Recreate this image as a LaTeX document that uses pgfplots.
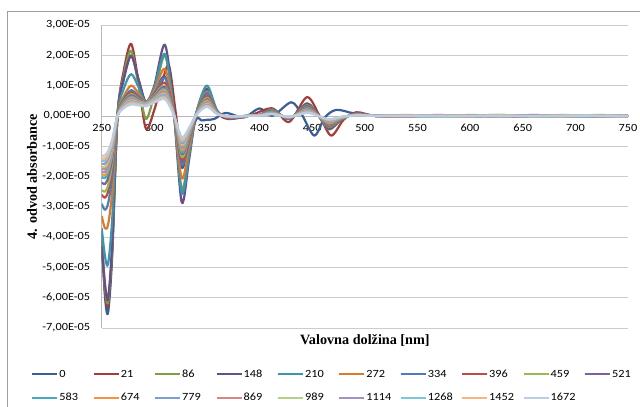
\documentclass[border=0pt]{standalone}
\usepackage{pgfplots}
\pgfplotsset{compat=1.18}
\usepackage{fontspec}
\setmainfont{Carlito}
\newfontfamily\carl[FakeStretch=1.12]{Carlito}
\newfontfamily\tnr{Liberation Serif}
\newcommand{\legtxt}[1]{\makebox[32.2pt][l]{#1}}
\definecolor{c0}{HTML}{3A5F96}
\definecolor{c21}{HTML}{A33C3A}
\definecolor{c86}{HTML}{7E9E45}
\definecolor{c148}{HTML}{65508A}
\definecolor{c210}{HTML}{3C94AE}
\definecolor{c272}{HTML}{DA7B2C}
\definecolor{c334}{HTML}{4A7EBB}
\definecolor{c396}{HTML}{BE4B48}
\definecolor{c459}{HTML}{98B954}
\definecolor{c521}{HTML}{7D60A0}
\definecolor{c583}{HTML}{46AAC5}
\definecolor{c674}{HTML}{F69240}
\definecolor{c779}{HTML}{7E9FD2}
\definecolor{c869}{HTML}{D98583}
\definecolor{c989}{HTML}{B5D186}
\definecolor{c1114}{HTML}{A592C4}
\definecolor{c1268}{HTML}{7FC6DA}
\definecolor{c1452}{HTML}{F9B483}
\definecolor{c1672}{HTML}{B9CDE5}
\begin{document}
\begin{tikzpicture}
\path[use as bounding box] (0pt,0pt) rectangle (640pt,407pt);
\draw[gray!75, line width=0.8pt] (7pt,0pt) -- (7pt,396pt) -- (640pt,396pt);
\begin{axis}[
  at={(101.7pt,79pt)}, anchor=south west,
  scale only axis, width=526.3pt, height=303pt,
  xmin=250, xmax=750, ymin=-7, ymax=3,
  axis x line*=middle, axis y line*=left,
  axis line style={-, draw=gray!55, line width=0.8pt},
  inner axis line style={-},
  hide obscured x ticks=false, hide obscured y ticks=false,
  xtick={250,300,...,750}, ytick={-7,-6,...,3},
  yticklabels={{-7,00E-05},{-6,00E-05},{-5,00E-05},{-4,00E-05},{-3,00E-05},{-2,00E-05},{-1,00E-05},{0,00E+00},{1,00E-05},{2,00E-05},{3,00E-05}},
  major tick length=0pt,
  ymajorgrids, grid style={draw=gray!40, line width=0.8pt},
  /pgf/number format/assume math mode=true,
  tick label style={font=\carl\fontsize{11}{13}\selectfont},
  xticklabel style={anchor=north, yshift=-5pt},
  yticklabel style={anchor=east, xshift=-8pt},
  xlabel={Valovna dolžina [nm]}, ylabel={4. odvod absorbance},
  every axis x label/.style={at={(axis description cs:0.5,-0.0396)}, anchor=center, font=\tnr\bfseries\fontsize{14.2}{16}\selectfont},
  every axis y label/.style={at={(axis description cs:-0.1324,0.5)}, anchor=center, rotate=90, font=\tnr\bfseries\fontsize{14.2}{16}\selectfont},
  legend columns=10,
  legend cell align=left,
  legend image code/.code={\draw[#1, line width=2.2pt] (0pt,0pt) -- (25pt,0pt);},
  legend style={at={(axis description cs:-0.1343,-0.135)}, anchor=north west, draw=none, fill=none, inner sep=0pt,
    font=\carl\fontsize{11}{13}\selectfont, row sep=13.5pt, column sep=0pt,
    nodes={inner xsep=1pt, inner ysep=0pt, text height=8pt, text depth=2pt}},
  every axis plot/.append style={line width=2.2pt, no markers, smooth, line join=round},
]
% 0
\addplot[c0] coordinates {(250,-3.8)(253,-5.9)(256,-6.5)(260,-4.6)(265,0.0)(271,1.2)(278,2.0)(285,1.2)(292,0.45)(300,0.8)(310,1.3)(318,0.2)(326,-1.7)(333,-0.9)(340,-0.1)(345,-0.15)(350,-0.13)(357,-0.1)(368,0.1)(385,-0.05)(400,0.25)(412,0.0)(430,0.45)(440,0.05)(452,-0.65)(462,-0.05)(473,0.2)(490,0.08)(510,0.0)(540,0.02)(570,-0.02)(600,0.01)(630,-0.01)(660,0.02)(690,-0.02)(720,0.01)(750,0.0)};
% 21
\addplot[c21] coordinates {(250,-4.1)(253,-5.8)(256,-6.25)(260,-4.4)(265,0.0)(271,1.5)(278,2.38)(285,1.1)(292,-0.42)(300,0.2)(308,1.2)(314,1.65)(320,0.2)(327,-1.55)(334,-0.8)(340,0.05)(350,0.75)(360,0.1)(370,-0.1)(390,0.0)(412,0.25)(428,-0.2)(445,0.62)(457,0.0)(468,-0.65)(480,-0.12)(492,0.12)(510,0.0)(540,-0.01)(570,0.02)(600,-0.02)(630,0.01)(660,0.0)(690,0.02)(720,-0.01)(750,0.01)};
% 86
\addplot[c86] coordinates {(250,-4.0)(253,-5.6)(256,-6.15)(260,-4.3)(265,0.0)(271,1.35)(278,2.15)(285,1.0)(292,-0.1)(300,0.7)(310,2.0)(318,0.3)(326,-2.4)(333,-1.2)(340,0.1)(350,0.85)(360,0.15)(372,-0.08)(388,0.0)(400,0.03)(412,0.22)(428,-0.1)(445,0.42)(456,0.0)(466,-0.45)(478,-0.12)(492,0.08)(510,0.0)(540,0.02)(570,-0.02)(600,0.03)(630,-0.01)(660,0.02)(690,-0.03)(720,0.01)(750,0.0)};
% 148
\addplot[c148] coordinates {(250,-4.3)(253,-5.5)(256,-6.05)(260,-4.2)(265,0.0)(271,1.25)(278,1.98)(285,1.2)(292,0.45)(300,1.0)(310,2.35)(318,0.35)(326,-2.85)(333,-1.45)(340,0.1)(350,0.9)(360,0.15)(372,-0.08)(388,0.0)(400,0.03)(412,0.21)(428,-0.1)(445,0.4)(456,0.0)(466,-0.43)(478,-0.11)(492,0.08)(510,0.0)(540,-0.01)(570,0.03)(600,-0.02)(630,0.02)(660,-0.03)(690,0.02)(720,-0.01)(750,0.01)};
% 210
\addplot[c210] coordinates {(250,-3.7)(253,-4.6)(256,-4.9)(260,-3.4)(265,0.0)(271,0.9)(278,1.38)(285,0.95)(292,0.45)(300,0.95)(310,2.05)(318,0.3)(326,-2.55)(333,-1.3)(340,0.12)(350,1.0)(360,0.15)(372,-0.07)(388,0.0)(400,0.03)(412,0.19)(428,-0.09)(445,0.36)(456,0.0)(466,-0.38)(478,-0.1)(492,0.07)(510,0.0)(540,0.02)(570,-0.03)(600,0.01)(630,0.03)(660,-0.02)(690,0.01)(720,0.02)(750,-0.01)};
% 272
\addplot[c272] coordinates {(250,-3.3)(253,-3.7)(256,-3.6)(260,-2.5)(265,0.0)(271,0.65)(278,1.0)(285,0.75)(292,0.45)(300,0.85)(310,1.55)(318,0.25)(326,-2.05)(333,-1.05)(340,0.1)(350,0.8)(360,0.12)(372,-0.06)(388,0.0)(400,0.02)(412,0.18)(428,-0.08)(445,0.34)(456,0.0)(466,-0.36)(478,-0.1)(492,0.06)(510,0.0)(540,-0.02)(570,0.02)(600,-0.01)(630,0.02)(660,0.01)(690,-0.02)(720,0.03)(750,0.0)};
% 334
\addplot[c334] coordinates {(250,-2.9)(253,-3.1)(256,-2.9)(260,-2.0)(265,0.0)(271,0.55)(278,0.85)(285,0.65)(292,0.45)(300,0.75)(310,1.25)(318,0.2)(326,-1.6)(333,-0.85)(340,0.1)(350,0.75)(360,0.12)(372,-0.06)(388,0.0)(400,0.02)(412,0.17)(428,-0.08)(445,0.32)(456,0.0)(466,-0.34)(478,-0.09)(492,0.06)(510,0.0)(540,0.01)(570,-0.02)(600,0.02)(630,-0.03)(660,0.01)(690,0.02)(720,-0.02)(750,0.01)};
% 396
\addplot[c396] coordinates {(250,-2.6)(253,-2.7)(256,-2.5)(260,-1.7)(265,0.0)(271,0.5)(278,0.78)(285,0.6)(292,0.45)(300,0.7)(310,1.1)(318,0.18)(326,-1.45)(333,-0.78)(340,0.08)(350,0.65)(360,0.1)(372,-0.06)(388,0.0)(400,0.02)(412,0.15)(428,-0.07)(445,0.29)(456,0.0)(466,-0.32)(478,-0.08)(492,0.06)(510,0.0)(540,-0.01)(570,0.02)(600,0.01)(630,-0.02)(660,0.03)(690,-0.01)(720,0.01)(750,-0.02)};
% 459
\addplot[c459] coordinates {(250,-2.45)(253,-2.5)(256,-2.3)(260,-1.55)(265,0.0)(271,0.47)(278,0.72)(285,0.57)(292,0.45)(300,0.68)(310,1.0)(318,0.17)(326,-1.35)(333,-0.73)(340,0.08)(350,0.6)(360,0.1)(372,-0.05)(388,0.0)(400,0.02)(412,0.14)(428,-0.07)(445,0.27)(456,0.0)(466,-0.29)(478,-0.08)(492,0.05)(510,0.0)(540,0.03)(570,-0.01)(600,-0.02)(630,0.02)(660,0.0)(690,0.03)(720,-0.02)(750,0.01)};
% 521
\addplot[c521] coordinates {(250,-2.2)(253,-2.25)(256,-2.05)(260,-1.4)(265,0.0)(271,0.44)(278,0.68)(285,0.55)(292,0.44)(300,0.65)(310,0.95)(318,0.16)(326,-1.25)(333,-0.68)(340,0.07)(350,0.55)(360,0.1)(372,-0.05)(388,0.0)(400,0.02)(412,0.13)(428,-0.06)(445,0.25)(456,0.0)(466,-0.27)(478,-0.07)(492,0.05)(510,0.0)(540,-0.02)(570,0.01)(600,0.02)(630,-0.01)(660,-0.02)(690,0.02)(720,0.01)(750,-0.01)};
% 583
\addplot[c583] coordinates {(250,-2.02)(253,-2.05)(256,-1.88)(260,-1.28)(265,0.0)(271,0.42)(278,0.64)(285,0.52)(292,0.43)(300,0.62)(310,0.9)(318,0.15)(326,-1.2)(333,-0.65)(340,0.07)(350,0.52)(360,0.09)(372,-0.04)(388,0.0)(400,0.02)(412,0.12)(428,-0.06)(445,0.23)(456,0.0)(466,-0.25)(478,-0.07)(492,0.04)(510,0.0)(540,0.01)(570,-0.03)(600,0.02)(630,0.01)(660,-0.02)(690,-0.01)(720,0.02)(750,0.0)};
% 674
\addplot[c674] coordinates {(250,-1.92)(253,-1.95)(256,-1.78)(260,-1.2)(265,0.0)(271,0.4)(278,0.6)(285,0.5)(292,0.42)(300,0.6)(310,0.85)(318,0.14)(326,-1.12)(333,-0.6)(340,0.06)(350,0.5)(360,0.09)(372,-0.04)(388,0.0)(400,0.02)(412,0.11)(428,-0.05)(445,0.21)(456,0.0)(466,-0.23)(478,-0.06)(492,0.04)(510,0.0)(540,-0.01)(570,0.02)(600,-0.02)(630,0.02)(660,0.01)(690,-0.02)(720,0.0)(750,0.02)};
% 779
\addplot[c779] coordinates {(250,-1.83)(253,-1.85)(256,-1.68)(260,-1.13)(265,0.0)(271,0.38)(278,0.57)(285,0.48)(292,0.41)(300,0.58)(310,0.8)(318,0.13)(326,-1.05)(333,-0.57)(340,0.06)(350,0.45)(360,0.08)(372,-0.04)(388,0.0)(400,0.01)(412,0.1)(428,-0.05)(445,0.19)(456,0.0)(466,-0.2)(478,-0.05)(492,0.04)(510,0.0)(540,0.02)(570,0.0)(600,-0.02)(630,0.01)(660,0.02)(690,-0.01)(720,-0.02)(750,0.01)};
% 869
\addplot[c869] coordinates {(250,-1.74)(253,-1.75)(256,-1.6)(260,-1.07)(265,0.0)(271,0.36)(278,0.54)(285,0.46)(292,0.4)(300,0.56)(310,0.76)(318,0.12)(326,-1.0)(333,-0.54)(340,0.05)(350,0.42)(360,0.08)(372,-0.03)(388,0.0)(400,0.01)(412,0.09)(428,-0.04)(445,0.18)(456,0.0)(466,-0.19)(478,-0.05)(492,0.03)(510,0.0)(540,-0.02)(570,0.01)(600,0.02)(630,-0.02)(660,0.0)(690,0.02)(720,-0.01)(750,0.0)};
% 989
\addplot[c989] coordinates {(250,-1.68)(253,-1.68)(256,-1.52)(260,-1.02)(265,0.0)(271,0.34)(278,0.51)(285,0.44)(292,0.39)(300,0.54)(310,0.72)(318,0.11)(326,-0.95)(333,-0.51)(340,0.05)(350,0.4)(360,0.07)(372,-0.03)(388,0.0)(400,0.01)(412,0.08)(428,-0.04)(445,0.16)(456,0.0)(466,-0.17)(478,-0.05)(492,0.03)(510,0.0)(540,0.01)(570,-0.02)(600,0.0)(630,0.03)(660,-0.02)(690,0.01)(720,0.02)(750,-0.01)};
% 1114
\addplot[c1114] coordinates {(250,-1.58)(253,-1.58)(256,-1.43)(260,-0.96)(265,0.0)(271,0.32)(278,0.48)(285,0.42)(292,0.37)(300,0.52)(310,0.68)(318,0.1)(326,-0.9)(333,-0.48)(340,0.05)(350,0.37)(360,0.07)(372,-0.03)(388,0.0)(400,0.01)(412,0.08)(428,-0.04)(445,0.15)(456,0.0)(466,-0.16)(478,-0.04)(492,0.03)(510,0.0)(540,-0.01)(570,0.01)(600,-0.01)(630,0.0)(660,0.02)(690,-0.02)(720,0.01)(750,0.01)};
% 1268
\addplot[c1268] coordinates {(250,-1.49)(253,-1.48)(256,-1.34)(260,-0.9)(265,0.0)(271,0.3)(278,0.45)(285,0.4)(292,0.36)(300,0.5)(310,0.64)(318,0.1)(326,-0.85)(333,-0.45)(340,0.04)(350,0.34)(360,0.06)(372,-0.02)(388,0.0)(400,0.01)(412,0.07)(428,-0.03)(445,0.13)(456,0.0)(466,-0.14)(478,-0.04)(492,0.02)(510,0.0)(540,0.0)(570,-0.03)(600,0.01)(630,-0.01)(660,0.0)(690,-0.02)(720,0.01)(750,-0.01)};
% 1452
\addplot[c1452] coordinates {(250,-1.41)(253,-1.4)(256,-1.26)(260,-0.84)(265,0.0)(271,0.28)(278,0.42)(285,0.38)(292,0.34)(300,0.47)(310,0.6)(318,0.09)(326,-0.78)(333,-0.42)(340,0.04)(350,0.32)(360,0.06)(372,-0.02)(388,0.0)(400,0.01)(412,0.06)(428,-0.03)(445,0.11)(456,0.0)(466,-0.12)(478,-0.03)(492,0.02)(510,0.0)(540,0.01)(570,0.0)(600,-0.01)(630,0.01)(660,-0.01)(690,0.0)(720,0.01)(750,0.0)};
% 1672
\addplot[c1672] coordinates {(250,-1.32)(253,-1.3)(256,-1.17)(260,-0.78)(265,0.0)(271,0.26)(278,0.38)(285,0.35)(292,0.32)(300,0.44)(310,0.55)(318,0.08)(326,-0.7)(333,-0.4)(340,0.04)(350,0.3)(360,0.05)(372,-0.02)(388,0.0)(400,0.01)(412,0.06)(428,-0.03)(445,0.1)(456,0.0)(466,-0.11)(478,-0.03)(492,0.02)(510,0.0)(540,0.0)(570,0.01)(600,0.0)(630,-0.01)(660,0.0)(690,0.01)(720,0.0)(750,0.0)};
\legend{\legtxt{0},\legtxt{21},\legtxt{86},\legtxt{148},\legtxt{210},\legtxt{272},\legtxt{334},\legtxt{396},\legtxt{459},\legtxt{521},\legtxt{583},\legtxt{674},\legtxt{779},\legtxt{869},\legtxt{989},\legtxt{1114},\legtxt{1268},\legtxt{1452},\legtxt{1672}}
\end{axis}
\end{tikzpicture}
\end{document}
